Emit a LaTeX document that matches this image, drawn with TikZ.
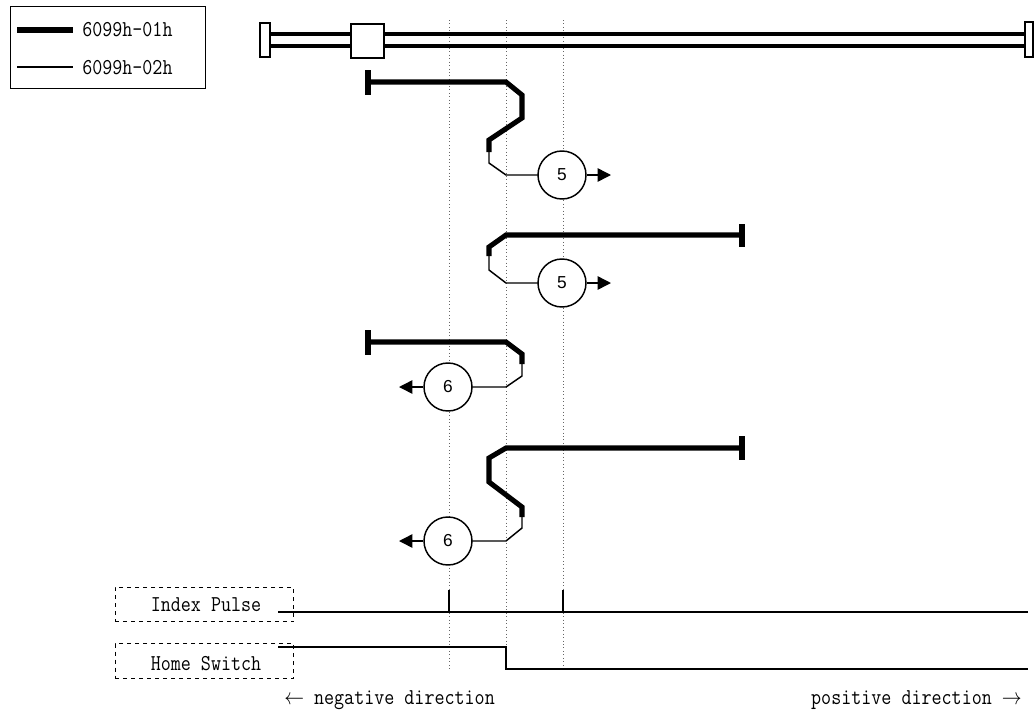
\documentclass[tikz,border=0pt]{standalone}
\usepackage{fontspec}
\newfontfamily\numfont{Liberation Sans}
\usetikzlibrary{arrows.meta}
\newcommand\nrw[1]{\scalebox{0.86}[1]{#1}}
\begin{document}
\begin{tikzpicture}[x=0.75pt,y=-0.75pt,
  thickline/.style={line width=3.8pt},
  thinline/.style={line width=1.1pt},
  guide/.style={dotted, line width=0.6pt, black!60},
  numcirc/.style={circle, draw, line width=1.1pt, minimum size=36pt, inner sep=0pt, fill=white, font=\numfont\fontsize{13}{15}\selectfont},
  arr/.style={thinline, -{Triangle[length=10pt,width=10pt]}},
  txt/.style={font=\ttfamily\fontsize{17}{19}\selectfont, inner sep=0pt},
  sigbox/.style={draw, dashed, line width=0.7pt, minimum width=134pt, minimum height=26pt, inner sep=0pt},
  railpart/.style={draw, line width=2.2pt, fill=white}
]
\useasboundingbox (0,0) rectangle (1036,715);

% legend
\node[draw, line width=1.1pt, minimum width=146pt, minimum height=61.5pt, anchor=north west] (legend) at (10,6) {};
\coordinate (l1a) at (17,30); \coordinate (l1b) at (73,30);
\coordinate (l2a) at (17,67); \coordinate (l2b) at (73,67);
\draw[thickline] (l1a) -- (l1b);
\draw[thinline] (l2a) -- (l2b);
\node[txt, anchor=west] (leg1) at (82,30) {\nrw{6099h-01h}};
\node[txt, anchor=west] (leg2) at (82,68) {\nrw{6099h-02h}};

% guide lines
\foreach \gx/\gn in {449/ga,506/gb,563/gc}{
  \coordinate (\gn top) at (\gx,20);
  \coordinate (\gn bot) at (\gx,670);
  \draw[guide] (\gn top) -- (\gn bot);
}

% rail
\coordinate (rl) at (268,34); \coordinate (rr) at (1027,34);
\coordinate (rl2) at (268,46); \coordinate (rr2) at (1027,46);
\draw[line width=2.4pt] (rl) -- (rr);
\draw[line width=2.4pt] (rl2) -- (rr2);
\path[railpart] (260,23) rectangle (270,57);
\path[railpart] (1025,22) rectangle (1033,57);
\path[railpart] (351,24) rectangle (384,58);

% path 1
\coordinate (p1s) at (368,82);
\draw[thickline] (368,70) -- (368,95);
\draw[thickline] (p1s) -- (506,82) -- (522,95) -- (522,118) -- (489,140) -- (489,152);
\draw[thinline] (489,150) -- (489,163) -- (506,175) -- (540,175);
\node[numcirc] (c1) at (562,175) {5};
\coordinate (a1) at (611,175);
\draw[arr] (c1.east) -- (a1);

% path 2
\coordinate (p2e) at (742,235);
\draw[thickline] (742,224) -- (742,247);
\draw[thickline] (p2e) -- (506,235) -- (489,247) -- (489,256);
\draw[thinline] (489,254) -- (489,270) -- (506,283) -- (540,283);
\node[numcirc] (c2) at (562,283) {5};
\coordinate (a2) at (611,283);
\draw[arr] (c2.east) -- (a2);

% path 3
\coordinate (p3s) at (368,342);
\draw[thickline] (368,330) -- (368,355);
\draw[thickline] (p3s) -- (506,342) -- (522,354) -- (522,364);
\draw[thinline] (522,362) -- (522,376) -- (506,387) -- (470,387);
\node[numcirc] (c3) at (448,387) {6};
\coordinate (a3) at (399,387);
\draw[arr] (c3.west) -- (a3);

% path 4
\coordinate (p4e) at (742,448);
\draw[thickline] (742,436) -- (742,460);
\draw[thickline] (p4e) -- (506,448) -- (489,458) -- (489,482) -- (522,507) -- (522,517);
\draw[thinline] (522,515) -- (522,528) -- (506,541) -- (470,541);
\node[numcirc] (c4) at (448,541) {6};
\coordinate (a4) at (399,541);
\draw[arr] (c4.west) -- (a4);

% index pulse
\node[sigbox] (ipbox) at (204.5,604.5) {};
\node[txt] (iptxt) at (206,605) {\nrw{Index Pulse}};
\coordinate (ips) at (278,612); \coordinate (ipe) at (1028,612);
\draw[line width=1.5pt] (ips) -- (ipe);
\draw[line width=2.2pt] (449,612) -- (449,590);
\draw[line width=2.2pt] (563,612) -- (563,590);

% home switch
\node[sigbox] (hsbox) at (204.5,661) {};
\node[txt] (hstxt) at (206,664) {\nrw{Home Switch}};
\coordinate (hss) at (278,647); \coordinate (hse) at (1028,669);
\draw[line width=1.5pt] (hss) -- (506,647) -- (506,669) -- (hse);

% direction labels
\node[txt, anchor=west] (neg) at (284,700) {\nrw{$\leftarrow$ negative direction}};
\node[txt, anchor=east] (pos) at (1022,700) {\nrw{positive direction $\rightarrow$}};
\end{tikzpicture}
\end{document}
